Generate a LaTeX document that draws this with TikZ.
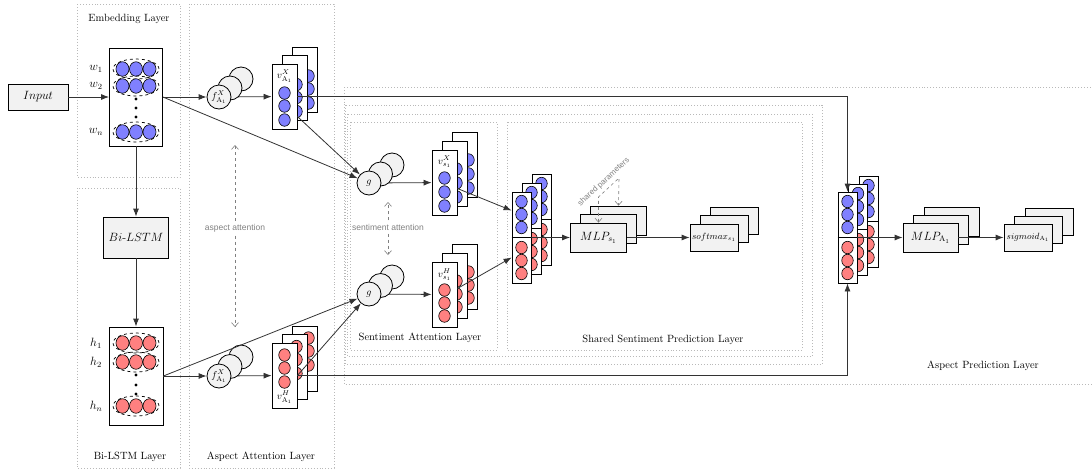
\documentclass[tikz,border=0pt]{standalone}
\usepackage{fontspec}
\newfontfamily\hintfont{Liberation Sans}
\usetikzlibrary{arrows.meta,shapes.geometric,backgrounds}

\tikzset{
  layer/.style={draw=gray!55, dotted, line width=0.9pt},
  layername/.style={font=\fontsize{10.5}{12}\selectfont},
  blk/.style={draw, fill=gray!10, line width=0.8pt, inner sep=0pt},
  mlpbox/.style={blk, minimum width=56pt, minimum height=29pt, font=\large},
  outbox/.style={blk, minimum width=48pt, minimum height=27pt, font=\small},
  vec/.style={draw, fill=white, line width=0.8pt, inner sep=0pt},
  vbox/.style={vec, minimum width=25pt, minimum height=65pt},
  vlabel/.style={inner sep=0pt},
  catbox/.style={vec, minimum width=19pt, minimum height=91pt},
  bdot/.style={draw, ellipse, fill=blue!50, line width=0.6pt, minimum width=11.5pt, minimum height=12.5pt, inner sep=0pt},
  rdot/.style={bdot, fill=red!50},
  ring/.style={draw, dashed, ellipse, line width=0.7pt, minimum width=46pt, minimum height=20pt},
  unit/.style={draw, circle, fill=gray!10, line width=0.8pt, minimum size=24pt, inner sep=0pt},
  flow/.style={draw=black!80, -{Latex[length=8pt,width=6pt]}, line width=0.8pt},
  hint/.style={draw=gray, dashed, line width=0.6pt},
  hinttext/.style={text=gray, font=\hintfont\fontsize{8.5}{10}\selectfont},
}

\begin{document}
\begin{tikzpicture}[x=1pt, y=-1pt, >={Straight Barb[length=4pt,width=7pt]}]
\useasboundingbox (0,0) rectangle (1092,472);

% Layers
\draw[layer] (77,4) rectangle (180,177);
\draw[layer] (77,188) rectangle (180,468);
\draw[layer] (189,4) rectangle (334,468);
\draw[layer] (344,87) rectangle (1096,384);
\draw[layer] (345,105) rectangle (822,364);
\draw[layer] (347,114) rectangle (812,356);
\draw[layer] (350,122) rectangle (497,350);
\draw[layer] (507,122) rectangle (802,350);

\node[layername] (t-emb) at (129,19) {Embedding Layer};
\node[layername] (t-lstm) at (130,457) {Bi-LSTM Layer};
\node[layername] (t-aatt) at (261,457) {Aspect Attention Layer};
\node[layername] (t-satt) at (420,338) {Sentiment Attention Layer};
\node[layername] (t-ssp) at (663,340) {Shared Sentiment Prediction Layer};
\node[layername] (t-ap) at (983,366) {Aspect Prediction Layer};

% Embedding Layer
\node[blk, minimum width=60pt, minimum height=26pt, font=\large] (input) at (38,97) {$Input$};
\node[vec, minimum width=53pt, minimum height=98pt] (emb) at (136,97) {};
\foreach \y/\i in {69/1,86/2,132/n} {
  \node[ring] (wr\i) at (136,\y) {};
  \foreach \x/\j in {122.5/a,136/b,149.5/c}
    \node[bdot, minimum width=13pt, minimum height=14.5pt] (w\i\j) at (\x,\y) {};
  \node[font=\large] (wl\i) at (96,\y) {$w_\i$};
}
\foreach \y in {99,108,117}
  \fill (136,\y) circle (1.7pt);

% Bi-LSTM Layer
\node[blk, minimum width=65pt, minimum height=41pt, font=\large] (lstm) at (136,237.5) {$Bi$-$LSTM$};
\node[vec, minimum width=54pt, minimum height=98pt] (hid) at (136,376) {};
\foreach \y/\i in {343/1,362/2,406/n} {
  \node[ring] (hr\i) at (136,\y) {};
  \foreach \x/\j in {122.5/a,136/b,149.5/c}
    \node[rdot, minimum width=13pt, minimum height=14.5pt] (h\i\j) at (\x,\y) {};
  \node[font=\large] (hl\i) at (96,\y) {$h_\i$};
}
\foreach \y in {375,385,394}
  \fill (136,\y) circle (1.7pt);

% Aspect Attention Layer
\foreach \k in {2,1}
  \node[unit] (fx\k) at (219+11*\k,97-9*\k) {};
\node[unit] (fx0) at (219,97) {$f^X_{\mathrm{A}_1}$};
\foreach \k in {2,1}
  \node[unit] (fh\k) at (219+11*\k,376-9.5*\k) {};
\node[unit] (fh0) at (219,376) {$f^X_{\mathrm{A}_1}$};

\foreach \k in {2,1,0} {
  \node[vbox] (vx\k) at (284.5+10*\k,96.5-8.5*\k) {};
  \foreach \y/\j in {93/a,106/b,120/c}
    \node[bdot] (vx\k\j) at (284.5+12*\k,\y-8.5*\k) {};
}
\node[vlabel] (vxl) at (284.5,76) {$v^X_{\mathrm{A}_1}$};
\foreach \k in {2,1,0} {
  \node[vbox] (vh\k) at (284.5+10*\k,375.5-8.5*\k) {};
  \foreach \y/\j in {355/a,368/b,382/c}
    \node[rdot] (vh\k\j) at (284.5+12*\k,\y-8.5*\k) {};
}
\node[vlabel] (vhl) at (284.5,397) {$v^H_{\mathrm{A}_1}$};

\node[hinttext] (aatt) at (235,228) {aspect attention};
\coordinate (aatt-up) at (235,145);
\coordinate (aatt-dn) at (235,327);
\draw[hint, ->] (aatt) -- (aatt-up);
\draw[hint, ->] (aatt) -- (aatt-dn);

% Sentiment Attention Layer
\foreach \k in {2,1}
  \node[unit] (gx\k) at (369+11.5*\k,183-9*\k) {};
\node[unit] (gx0) at (369,183) {$g$};
\foreach \k in {2,1}
  \node[unit] (gh\k) at (369+11.5*\k,294-8.5*\k) {};
\node[unit] (gh0) at (369,294) {$g$};

\foreach \k in {2,1,0} {
  \node[vbox] (vsx\k) at (444.5+10*\k,182.5-9*\k) {};
  \foreach \y/\j in {178/a,192/b,206/c}
    \node[bdot] (vsx\k\j) at (444.5+12*\k,\y-9*\k) {};
}
\node[vlabel] (vsxl) at (444.5,162) {$v^X_{s_1}$};
\foreach \k in {2,1,0} {
  \node[vbox] (vsh\k) at (444.5+10*\k,294.5-9*\k) {};
  \foreach \y/\j in {290/a,303/b,316/c}
    \node[rdot] (vsh\k\j) at (444.5+12*\k,\y-9*\k) {};
}
\node[vlabel] (vshl) at (444.5,275) {$v^H_{s_1}$};

\node[hinttext] (satt) at (388,227) {sentiment attention};
\coordinate (satt-up) at (388,202);
\coordinate (satt-dn) at (388,255);
\draw[hint, ->] (satt) -- (satt-up);
\draw[hint, ->] (satt) -- (satt-dn);

% Shared Sentiment Prediction Layer
\foreach \k in {2,1,0} {
  \node[catbox] (cs\k) at (521.5+10*\k,237.5-9*\k) {};
  \draw[line width=0.8pt] (cs\k.west) -- (cs\k.east);
  \foreach \y/\j in {201.5/a,214.5/b,227.5/c}
    \node[bdot] (cs\k\j) at (521.5+10*\k,\y-9*\k) {};
  \foreach \y/\j in {247.5/d,260.5/e,273.5/f}
    \node[rdot] (cs\k\j) at (521.5+10*\k,\y-9*\k) {};
}
\foreach \k in {2,1}
  \node[mlpbox] (mlps\k) at (598.5+10*\k,237.5-8.5*\k) {};
\node[mlpbox] (mlps0) at (598.5,237.5) {$MLP_{s_1}$};
\foreach \k in {2,1}
  \node[outbox] (sms\k) at (714+10*\k,237.5-8.5*\k) {};
\node[outbox] (sms0) at (714,237.5) {$softmax_{s_1}$};

\coordinate (sp-a) at (598.5,197);
\coordinate (sp-b) at (619,178);
\draw[hint, <->] (mlps0.north) -- (sp-a)
  -- node[hinttext, font=\hintfont\fontsize{8}{9}\selectfont, sloped, above] (splab) {shared parameters} (sp-b)
  -- (mlps2.north);

% Aspect Prediction Layer
\foreach \k in {2,1,0} {
  \node[catbox] (ca\k) at (847.5+10.5*\k,237.5-8*\k) {};
  \draw[line width=0.8pt] (ca\k.west) -- (ca\k.east);
  \foreach \y/\j in {201.5/a,214.5/b,227.5/c}
    \node[bdot] (ca\k\j) at (847.5+10.5*\k,\y-8*\k) {};
  \foreach \y/\j in {247.5/d,260.5/e,273.5/f}
    \node[rdot] (ca\k\j) at (847.5+10.5*\k,\y-8*\k) {};
}
\foreach \k in {2,1}
  \node[mlpbox, minimum width=55pt] (mlpa\k) at (930.5+10.5*\k,237.5-8*\k) {};
\node[mlpbox, minimum width=55pt] (mlpa0) at (930.5,237.5) {$MLP_{\mathrm{A}_1}$};
\foreach \k in {2,1}
  \node[outbox] (sga\k) at (1028+10.5*\k,237.5-8*\k) {};
\node[outbox] (sga0) at (1028,237.5) {$sigmoid_{\mathrm{A}_1}$};

% Connections
\draw[flow] (input) -- (emb);
\draw[flow] (emb) -- (lstm);
\draw[flow] (lstm) -- (hid);
\draw[flow] (emb.east) -- (fx0);
\draw[flow] (hid.east) -- (fh0);
\draw[flow] (emb.east) -- (gx0);
\draw[flow] ([yshift=-20pt]vx0.east) -- (gx0);
\draw[flow] (hid.east) -- (gh0);
\draw[flow] (vh0.east) -- (gh0);
\draw[flow] (vx0.east) -| (ca0.north);
\draw[flow] (vh0.east) -| (ca0.south);
\draw[flow] ([yshift=-6pt]vsx0.east) -- ([yshift=27pt]cs0.west);
\draw[flow] ([yshift=6pt]vsh0.east) -- ([yshift=-20pt]cs0.west);
\draw[flow] (cs0.east) -- (mlps0);
\draw[flow] (mlps0) -- (sms0);
\draw[flow] (ca0.east) -- (mlpa0);
\draw[flow] (mlpa0) -- (sga0);
\begin{pgfonlayer}{background}
  \draw[flow] (fx0) -- (vx0);
  \draw[flow] (fh0) -- (vh0);
  \draw[flow] (gx0) -- (vsx0);
  \draw[flow] (gh0) -- (vsh0);
\end{pgfonlayer}
\end{tikzpicture}
\end{document}
